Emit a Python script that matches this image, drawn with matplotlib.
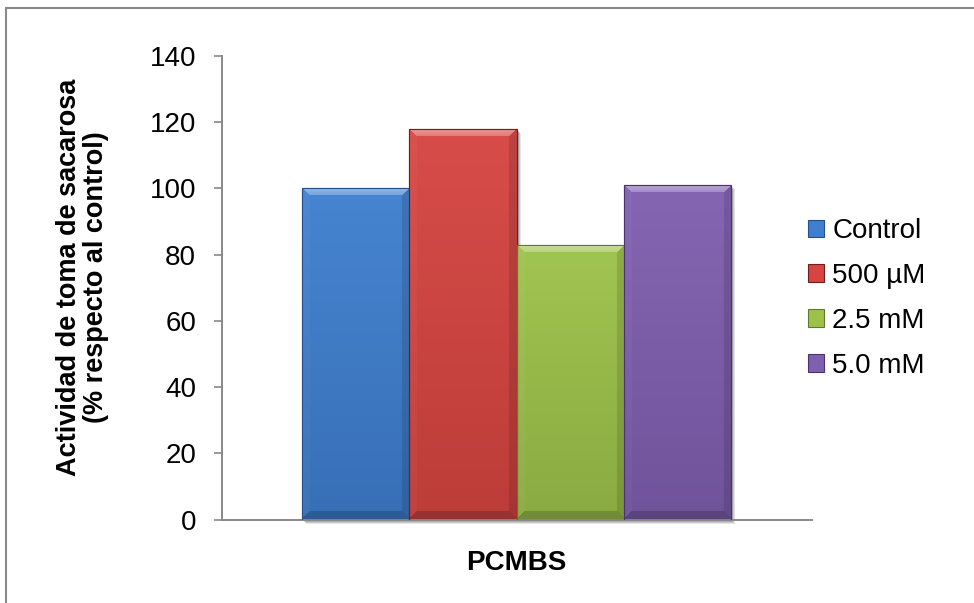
import numpy as np
import matplotlib
matplotlib.use("Agg")
import matplotlib.pyplot as plt
from matplotlib.patches import Rectangle
from matplotlib.colors import to_rgb

plt.rcParams["font.family"] = ["Liberation Sans", "DejaVu Sans"]

categories = ["PCMBS"]
series = ["Control", "500 \u00b5M", "2.5 mM", "5.0 mM"]
values = [100, 118, 83, 101]
colors = ["#3f7fcf", "#d64541", "#9dc24a", "#7f5faf"]
edge_colors = ["#25508a", "#6e1f1f", "#5f7a2a", "#4a3370"]

W, H, DPI = 974, 603, 100
fig = plt.figure(figsize=(W / DPI, H / DPI), dpi=DPI)

# outer chart frame (runs past the right and bottom edges)
fig.patches.append(Rectangle((6 / W, -0.1), 2.0, 1.1 - 8 / H, transform=fig.transFigure,
                             fill=False, edgecolor="#898989", linewidth=1.5))

ax = fig.add_axes([221.7 / W, 83.5 / H, 590 / W, 463.5 / H])
ax.set_xlim(-0.5, 0.5)
ax.set_ylim(0, 140)
ax.set_yticks(range(0, 141, 20))
ax.set_xticks([])

for s in ["top", "right"]:
    ax.spines[s].set_visible(False)
for s in ["left", "bottom"]:
    ax.spines[s].set_color("#898989")
    ax.spines[s].set_linewidth(1.4)
ax.tick_params(axis="y", length=5.5, width=1.2, color="#898989", labelsize=20, pad=13)

n = len(series)
bar_w = 0.182
px_per_x = 590 / 1.0
px_per_y = 463.5 / 140


def shade(c, amount):
    c = np.array(to_rgb(c))
    if amount >= 0:
        return c + (1 - c) * amount
    return c * (1 + amount)


def bevel_image(color, wpx, hpx, b=8):
    hpx = max(int(round(hpx)), 2)
    wpx = max(int(round(wpx)), 2)
    i = np.arange(hpx)[:, None] * np.ones((1, wpx))
    j = np.ones((hpx, 1)) * np.arange(wpx)[None, :]
    d = np.stack([i, hpx - 1 - i, j, wpx - 1 - j])
    side = np.argmin(d, axis=0)
    m = np.min(d, axis=0)
    t = i / max(hpx - 1, 1)
    face = shade(color, 0.04)[None, None, :] * (1 - t[..., None]) + shade(color, -0.12)[None, None, :] * t[..., None]
    img = face.copy()
    amounts = [0.28, -0.18, 0.03, -0.12]
    for k, a in enumerate(amounts):
        mask = (m < b) & (side == k)
        if k == 0:
            tint = shade(color, a)
            g = (1 - i / b)[..., None] * 0.25
            tint_arr = tint[None, None, :] + (1 - tint[None, None, :]) * g
            img[mask] = np.clip(tint_arr, 0, 1)[mask]
        else:
            img[mask] = (img * (1 + a) if a < 0 else img + (1 - img) * a)[mask]
    return img


for k, (name, v, c, ec) in enumerate(zip(series, values, colors, edge_colors)):
    x0 = (k - (n - 1) / 2) * bar_w - bar_w / 2
    # soft shadow
    for off, al in [(4, 0.10), (3, 0.12), (2, 0.15)]:
        ax.add_patch(Rectangle((x0 + off / px_per_x, -off / px_per_y), bar_w, v,
                               facecolor="#000000", alpha=al, edgecolor="none",
                               zorder=1, clip_on=False))
    bar = ax.bar(x0, v, width=bar_w, align="edge", color=c, edgecolor=ec,
                 linewidth=0.8, zorder=2, label=name)[0]
    img = bevel_image(c, bar_w * px_per_x, v * px_per_y)
    im = ax.imshow(img, extent=(x0, x0 + bar_w, 0, v), aspect="auto",
                   interpolation="bilinear", zorder=2.5)
    im.set_clip_path(bar)
    ax.add_patch(Rectangle((x0, 0), bar_w, v, fill=False, edgecolor=ec,
                           linewidth=0.8, zorder=3))

ax.set_xlim(-0.5, 0.5)
ax.set_ylim(0, 140)

fig.text(516 / W, 1 - 563 / H, categories[0], ha="center", va="center",
         fontsize=20, fontweight="bold")
fig.text(83 / W, 1 - 277.5 / H, "Actividad de toma de sacarosa\n(% respecto al control)",
         rotation=90, ha="center", va="center", multialignment="center",
         fontsize=19.5, fontweight="bold", linespacing=1.05)

handles, labels = ax.get_legend_handles_labels()
leg = fig.legend(handles, labels, loc="upper left",
                 bbox_to_anchor=(808 / W, 1 - 218 / H), bbox_transform=fig.transFigure,
                 frameon=False, fontsize=20, handlelength=0.58, handleheight=0.58,
                 handletextpad=0.3, labelspacing=0.68, borderpad=0, borderaxespad=0)

fig.savefig("out.png", dpi=DPI)
